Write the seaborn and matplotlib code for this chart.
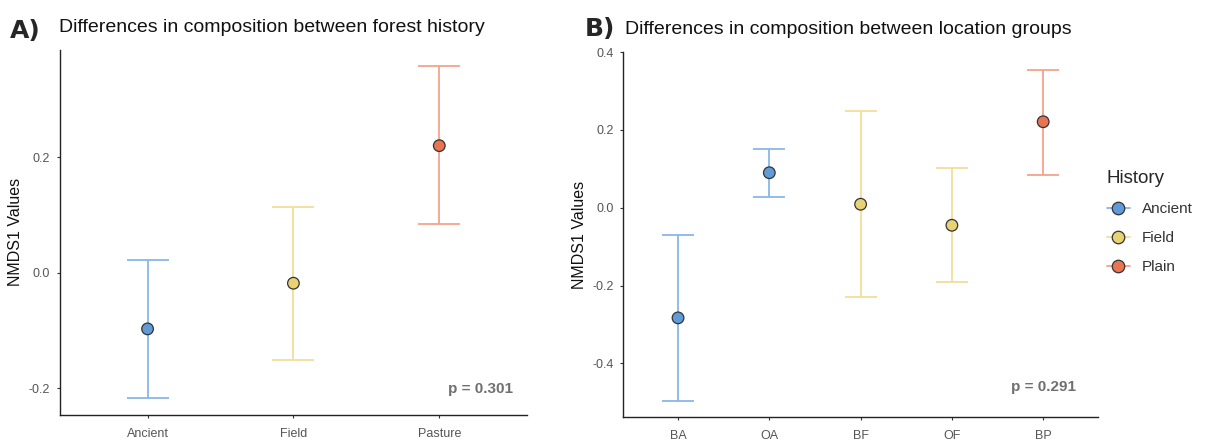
import seaborn as sns
import matplotlib.pyplot as plt
import pandas as pd
from matplotlib.lines import Line2D

# panel A: forest history
hist_groups = ['Ancient', 'Field', 'Pasture']
hist_type = ['Ancient', 'Field', 'Plain']
hist_mean = [-0.097, -0.018, 0.220]
hist_low = [-0.217, -0.151, 0.084]
hist_high = [0.023, 0.114, 0.357]

# panel B: location groups
loc_groups = ['BA', 'OA', 'BF', 'OF', 'BP']
loc_type = ['Ancient', 'Ancient', 'Field', 'Field', 'Plain']
loc_mean = [-0.283, 0.090, 0.009, -0.045, 0.221]
loc_low = [-0.497, 0.027, -0.229, -0.191, 0.083]
loc_high = [-0.070, 0.151, 0.248, 0.102, 0.355]

fill_pal = {'Ancient': '#5e9bd8', 'Field': '#e8d274', 'Plain': '#ea7452'}
line_pal = {'Ancient': '#8ab6ea', 'Field': '#f1de98', 'Plain': '#f4a38a'}

sns.set_style('white')
plt.rcParams['font.family'] = ['Liberation Sans', 'DejaVu Sans']

fig = plt.figure(figsize=(12.06, 4.46), dpi=100)
axA = fig.add_axes([0.0498, 0.0695, 0.387, 0.819])
axB = fig.add_axes([0.5168, 0.0643, 0.3936, 0.8198])


def panel(ax, groups, types, mean, low, high, capsize):
    df = pd.DataFrame({'grp': groups, 'History': types, 'mean': mean,
                       'low': low, 'high': high})
    for i, r in df.iterrows():
        ax.errorbar([r['grp']], [r['mean']],
                    yerr=[[r['mean'] - r['low']], [r['high'] - r['mean']]],
                    fmt='none', ecolor=line_pal[r['History']], elinewidth=1.3,
                    capsize=capsize, capthick=1.3, zorder=2)
    sns.scatterplot(data=df, x='grp', y='mean', hue='History', palette=fill_pal,
                    s=70, edgecolor='#333333', linewidth=0.9, legend=False,
                    zorder=3, ax=ax)
    ax.set_xlim(-0.6, len(groups) - 0.4)
    ax.set_xlabel('')
    ax.set_ylabel('NMDS1 Values', fontsize=11.5, color='#111111')
    ax.tick_params(axis='both', labelsize=9, labelcolor='#555555', length=2,
                   color='#333333', left=True, bottom=True, pad=7)
    for s in ['top', 'right']:
        ax.spines[s].set_visible(False)
    for s in ['left', 'bottom']:
        ax.spines[s].set_color('#222222')
        ax.spines[s].set_linewidth(1.0)


panel(axA, hist_groups, hist_type, hist_mean, hist_low, hist_high, 15)
axA.set_ylim(-0.246, 0.386)
axA.set_yticks([-0.2, 0.0, 0.2])
axA.set_yticklabels(['-0.2', '0.0', '0.2'])
axA.tick_params(axis='y', pad=5)
axA.text(0.97, 0.07, 'p = 0.301', transform=axA.transAxes, ha='right',
         va='center', fontsize=11, fontweight='bold', color='#707070')

panel(axB, loc_groups, loc_type, loc_mean, loc_low, loc_high, 11.5)
axB.set_ylim(-0.5385, 0.401)
axB.set_yticks([-0.4, -0.2, 0.0, 0.2, 0.4])
axB.set_yticklabels(['-0.4', '-0.2', '0.0', '0.2', '0.4'])
axB.tick_params(axis='y', pad=5)
axB.text(0.954, 0.083, 'p = 0.291', transform=axB.transAxes, ha='right',
         va='center', fontsize=11, fontweight='bold', color='#707070')

handles = [Line2D([0], [0], color=line_pal[k], lw=1.3, marker='o', markersize=9,
                  markerfacecolor=fill_pal[k], markeredgecolor='#333333',
                  markeredgewidth=0.9) for k in ['Ancient', 'Field', 'Plain']]
leg = axB.legend(handles, ['Ancient', 'Field', 'Plain'], title='History',
                 loc='upper left', bbox_to_anchor=(0.99, 0.715), frameon=False,
                 fontsize=11, title_fontsize=13.5, handlelength=1.5,
                 handletextpad=0.8, labelspacing=1.0, alignment='left')
for t in leg.get_texts():
    t.set_color('#333333')

fig.text(0.008, 0.93, 'A)', fontsize=18, fontweight='bold', family='DejaVu Sans',
         va='center')
fig.text(0.049, 0.938, 'Differences in composition between forest history',
         fontsize=14, va='center', color='#111111')
fig.text(0.485, 0.935, 'B)', fontsize=18, fontweight='bold', family='DejaVu Sans',
         va='center')
fig.text(0.518, 0.934, 'Differences in composition between location groups',
         fontsize=14, va='center', color='#111111')

plt.savefig('out.png', dpi=100)
plt.close()
